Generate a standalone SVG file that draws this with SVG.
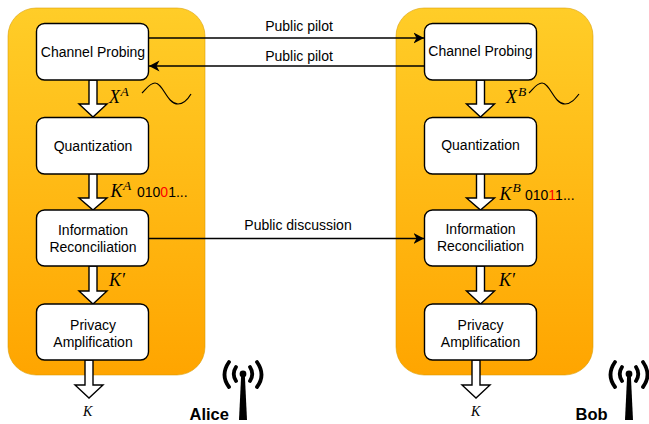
<svg xmlns="http://www.w3.org/2000/svg" width="649" height="424" viewBox="0 0 649 424">
<style>
.panel{fill:url(#g);stroke:#d79b00;stroke-opacity:.55;stroke-width:1}
.box{fill:#fff;stroke:#000;stroke-width:1.4}
.t{font-family:"Liberation Sans",Arial,sans-serif;font-size:14px;fill:#000;text-anchor:middle}
.b{font-family:"Liberation Sans",Arial,sans-serif;font-size:14px;fill:#000}
.m{font-family:"Liberation Serif","Times New Roman",serif;font-style:italic;fill:#000;font-size:18px}
.s{font-family:"Liberation Serif","Times New Roman",serif;font-style:italic;fill:#000;font-size:13.500px}
.k{font-family:"Liberation Serif","Times New Roman",serif;font-style:italic;fill:#000;font-size:14px}
.blk{fill:#fff;stroke:#000;stroke-width:1.4;stroke-linejoin:miter}
.line{fill:none;stroke:#000;stroke-width:1.3}
.wave{fill:none;stroke:#000;stroke-width:1.2}
.name{font-family:"Liberation Sans",Arial,sans-serif;font-size:16.500px;font-weight:bold;fill:#000}
.ant{fill:none;stroke:#000;stroke-width:3.800;stroke-linecap:round}
</style>
<defs>
<linearGradient id="g" x1="0" y1="0" x2="0" y2="1"><stop offset="0" stop-color="#ffcd28"/><stop offset="1" stop-color="#ffa500"/></linearGradient>
<marker id="arr" markerUnits="userSpaceOnUse" markerWidth="12" markerHeight="12" refX="10.500" refY="6" orient="auto"><path d="M0 .5L10.500 6L0 11.500L3 6Z" fill="#000"/></marker>
<g id="antenna">
<path d="M-1.800 10L-4 56H4L1.800 10Z" fill="#000"/>
<circle cx="0" cy="10" r="3.400" fill="#000"/>
<path class="ant" d="M-7 3Q-11.500 10 -7 17M7 3Q11.500 10 7 17M-14 -2Q-23 11 -14 23M14 -2Q23 11 14 23"/>
</g>
</defs>
<rect class="panel" x="8" y="8" width="197" height="367" rx="28"/>
<rect class="panel" x="396" y="8" width="197" height="367" rx="28"/>
<g id="connectors">
<path class="line" d="M148.500 38H424" marker-end="url(#arr)"/>
<path class="line" d="M424 66H149" marker-end="url(#arr)"/>
<path class="line" d="M148.500 238.500H424" marker-end="url(#arr)"/>
<path class="blk" d="M89 80H97V104H107L93 117L79 104H89Z"/>
<path class="blk" d="M89 173.500H97V198H107L93 210L79 198H89Z"/>
<path class="blk" d="M89 266H97V291H107L93 304L79 291H89Z"/>
<path class="blk" d="M85 360H93V385H103L89 398L75 385H85Z"/>
<path class="blk" d="M476.500 80H484.500V104H494.500L480.500 117L466.500 104H476.500Z"/>
<path class="blk" d="M476.500 173.500H484.500V198H494.500L480.500 210L466.500 198H476.500Z"/>
<path class="blk" d="M476.500 266H484.500V291H494.500L480.500 304L466.500 291H476.500Z"/>
<path class="blk" d="M472 360H480V385H490L476 398L462 385H472Z"/>
<path class="wave" d="M142 93C147 88 150 83 155 83C163 83 167 104 178 104C184 104 188 99 191 94"/>
<path class="wave" d="M529 93C534 88 537 83 542 83C550 83 554 104 565 104C571 104 575 99 579 94"/>
</g>
<text class="t" x="299" y="31">Public pilot</text>
<text class="t" x="299" y="61">Public pilot</text>
<text class="t" x="298" y="230">Public discussion</text>
<g id="alice-probing"><rect class="box" x="36.500" y="23.500" width="112" height="56.500" rx="8"/><text class="t" x="93" y="57">Channel Probing</text></g>
<g id="alice-quant"><rect class="box" x="36.500" y="117.500" width="112" height="56.500" rx="8"/><text class="t" x="93" y="151">Quantization</text></g>
<g id="alice-info"><rect class="box" x="36.500" y="210" width="112" height="56" rx="8"/><text class="t" x="93" y="235">Information</text><text class="t" x="93" y="252">Reconciliation</text></g>
<g id="alice-privacy"><rect class="box" x="36.500" y="304" width="112" height="56" rx="8"/><text class="t" x="93" y="330">Privacy</text><text class="t" x="93" y="347">Amplification</text></g>
<g id="bob-probing"><rect class="box" x="424.500" y="23.500" width="112" height="56.500" rx="8"/><text class="t" x="480.500" y="56">Channel Probing</text></g>
<g id="bob-quant"><rect class="box" x="424.500" y="117.500" width="112" height="56.500" rx="8"/><text class="t" x="480.500" y="150">Quantization</text></g>
<g id="bob-info"><rect class="box" x="424.500" y="210" width="112" height="56" rx="8"/><text class="t" x="480.500" y="234">Information</text><text class="t" x="480.500" y="251">Reconciliation</text></g>
<g id="bob-privacy"><rect class="box" x="424.500" y="304" width="112" height="56" rx="8"/><text class="t" x="480.500" y="330">Privacy</text><text class="t" x="480.500" y="347">Amplification</text></g>
<text class="m" x="109" y="103">X</text><text class="s" x="120.500" y="96">A</text>
<text class="m" x="110.500" y="197">K</text><text class="s" x="123" y="190">A</text>
<text class="b" x="137" y="197">010<tspan fill="#f00">0</tspan>1...</text>
<text class="m" x="109" y="286">K′</text>
<text class="k" x="83" y="416">K</text>
<text class="m" x="506" y="103">X</text><text class="s" x="518" y="96">B</text>
<text class="m" x="499.500" y="200">K</text><text class="s" x="512.500" y="192">B</text>
<text class="b" x="525" y="200">010<tspan fill="#f00">1</tspan>1...</text>
<text class="m" x="499" y="286">K′</text>
<text class="k" x="471" y="416">K</text>
<use href="#antenna" x="243" y="364"/>
<text class="name" x="189.500" y="420">Alice</text>
<use href="#antenna" x="629" y="364"/>
<text class="name" x="575.500" y="420">Bob</text>
</svg>
